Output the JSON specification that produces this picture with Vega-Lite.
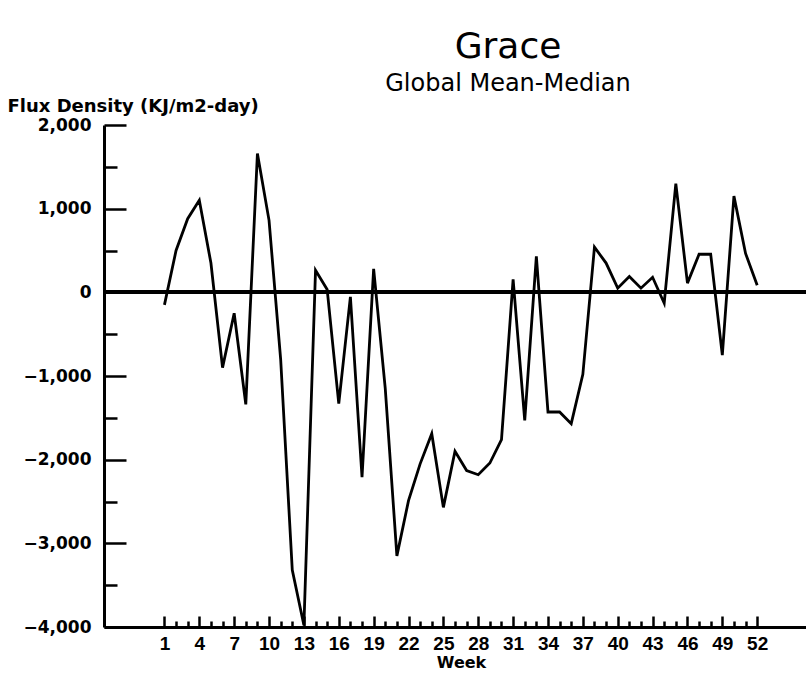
{
  "$schema": "https://vega.github.io/schema/vega-lite/v6.json",
  "autosize": {"type": "none"},
  "padding": {"left": 104, "top": 125, "right": 0, "bottom": 50},
  "width": 702,
  "height": 502,
  "background": "white",
  "title": {
    "text": "Grace",
    "subtitle": "Global Mean-Median",
    "anchor": "middle",
    "dx": 53,
    "offset": 0,
    "font": "DejaVu Sans",
    "fontSize": 36,
    "fontWeight": "normal",
    "color": "black",
    "subtitleFont": "DejaVu Sans",
    "subtitleFontSize": 24,
    "subtitleColor": "black",
    "subtitlePadding": 6
  },
  "config": {
    "view": {"stroke": null},
    "axis": {
      "domainColor": "black",
      "domainWidth": 3,
      "tickColor": "black",
      "tickWidth": 2.5,
      "grid": false,
      "labelColor": "black",
      "labelFont": "DejaVu Sans",
      "labelFontWeight": "bold",
      "titleColor": "black",
      "titleFont": "DejaVu Sans",
      "titleFontWeight": "bold"
    }
  },
  "data": {
    "values": [
      {"week": 1, "flux": -150}, {"week": 2, "flux": 500}, {"week": 3, "flux": 880}, {"week": 4, "flux": 1100},
      {"week": 5, "flux": 350}, {"week": 6, "flux": -900}, {"week": 7, "flux": -250}, {"week": 8, "flux": -1340},
      {"week": 9, "flux": 1660}, {"week": 10, "flux": 860}, {"week": 11, "flux": -800}, {"week": 12, "flux": -3320},
      {"week": 13, "flux": -3980}, {"week": 14, "flux": 265}, {"week": 15, "flux": 35}, {"week": 16, "flux": -1330},
      {"week": 17, "flux": -55}, {"week": 18, "flux": -2210}, {"week": 19, "flux": 280}, {"week": 20, "flux": -1150},
      {"week": 21, "flux": -3150}, {"week": 22, "flux": -2490}, {"week": 23, "flux": -2050}, {"week": 24, "flux": -1690},
      {"week": 25, "flux": -2570}, {"week": 26, "flux": -1900}, {"week": 27, "flux": -2130}, {"week": 28, "flux": -2180},
      {"week": 29, "flux": -2040}, {"week": 30, "flux": -1760}, {"week": 31, "flux": 155}, {"week": 32, "flux": -1530},
      {"week": 33, "flux": 430}, {"week": 34, "flux": -1430}, {"week": 35, "flux": -1430}, {"week": 36, "flux": -1570},
      {"week": 37, "flux": -980}, {"week": 38, "flux": 540}, {"week": 39, "flux": 350}, {"week": 40, "flux": 50},
      {"week": 41, "flux": 190}, {"week": 42, "flux": 50}, {"week": 43, "flux": 180}, {"week": 44, "flux": -130},
      {"week": 45, "flux": 1300}, {"week": 46, "flux": 110}, {"week": 47, "flux": 455}, {"week": 48, "flux": 455},
      {"week": 49, "flux": -750}, {"week": 50, "flux": 1150}, {"week": 51, "flux": 465}, {"week": 52, "flux": 85}
    ]
  },
  "layer": [
    {
      "mark": {"type": "rule", "color": "black", "strokeWidth": 3},
      "encoding": {"y": {"datum": 0, "type": "quantitative"}}
    },
    {
      "mark": {"type": "line", "color": "black", "strokeWidth": 2.8, "strokeJoin": "miter"},
      "encoding": {
        "x": {
          "field": "week",
          "type": "quantitative",
          "scale": {"domain": [-4.2, 56.2], "nice": false, "zero": false},
          "axis": {
            "values": [1,2,3,4,5,6,7,8,9,10,11,12,13,14,15,16,17,18,19,20,21,22,23,24,25,26,27,28,29,30,31,32,33,34,35,36,37,38,39,40,41,42,43,44,45,46,47,48,49,50,51,52],
            "tickSize": {"condition": {"test": "datum.value % 3 == 1", "value": -11}, "value": -6},
            "labelExpr": "datum.value % 3 == 1 ? datum.label : ''",
            "labelOverlap": false,
            "labelFlush": false,
            "labelFont": "Liberation Sans",
            "labelFontSize": 19,
            "labelPadding": 18,
            "title": "Week",
            "titleFontSize": 16,
            "titlePadding": -4,
            "titleX": 357
          }
        },
        "y": {
          "field": "flux",
          "type": "quantitative",
          "scale": {"domain": [-4000, 2000], "nice": false},
          "axis": {
            "values": [2000, 1500, 1000, 500, 0, -500, -1000, -1500, -2000, -2500, -3000, -3500, -4000],
            "tickSize": {"condition": {"test": "datum.value % 1000 == 0", "value": -22}, "value": -13},
            "labelExpr": "datum.value % 1000 == 0 ? datum.label : ''",
            "format": ",d",
            "labelOverlap": false,
            "labelFlush": false,
            "labelFontSize": 17,
            "labelPadding": 35,
            "title": "Flux Density (KJ/m2-day)",
            "titleFontSize": 18,
            "titleAngle": 0,
            "titleAlign": "left",
            "titleBaseline": "alphabetic",
            "titleX": -97,
            "titleY": -14
          }
        }
      }
    }
  ]
}
